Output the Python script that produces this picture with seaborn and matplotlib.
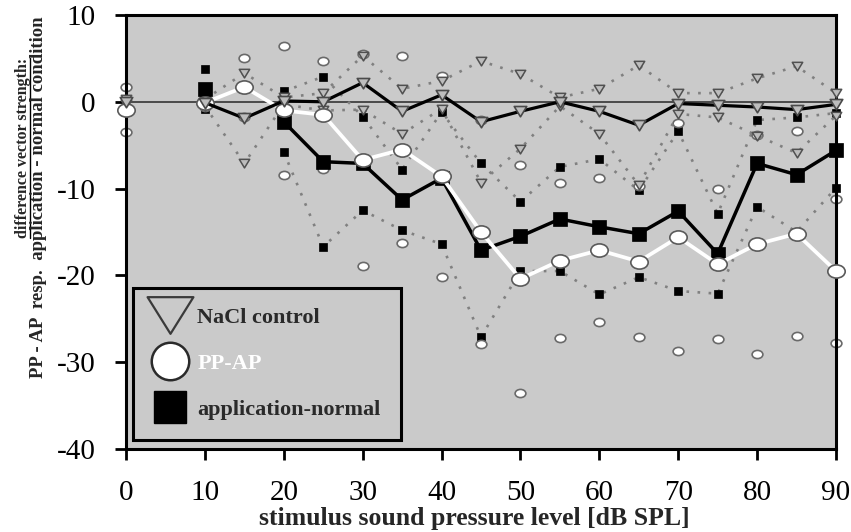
import numpy as np
import pandas as pd
import matplotlib
matplotlib.use("Agg")
import matplotlib.pyplot as plt
from matplotlib.path import Path
from matplotlib.transforms import Affine2D
from matplotlib.lines import Line2D
import seaborn as sns

# Stimulus levels (dB SPL)
levels = [0, 10, 15, 20, 25, 30, 35, 40, 45, 50, 55, 60, 65, 70, 75, 80, 85, 90]
app_levels = [10, 20, 25, 30, 35, 40, 45, 50, 55, 60, 65, 70, 75, 80, 85, 90]

# NaCl control: mean difference and standard deviation
nacl_mean = [0.0, -0.1, -1.9, 0.1, 0.0, 2.2, -1.1, 0.8, -2.3, -1.1, 0.0, -1.1, -2.7, -0.2, -0.4, -0.6, -0.9, -0.3]
nacl_sd = [0.3, 0.4, 5.2, 0.4, 1.0, 3.1, 2.6, 1.6, 7.0, 4.3, 0.5, 2.6, 6.9, 1.2, 1.4, 3.3, 5.0, 1.3]

# PP-AP: mean difference and standard deviation
ppap_mean = [-0.9, -0.1, 1.7, -1.0, -1.5, -6.7, -5.5, -8.6, -15.0, -20.4, -18.3, -17.1, -18.4, -15.6, -18.7, -16.4, -15.2, -19.5]
ppap_sd = [2.6, 0.5, 3.4, 7.4, 6.2, 12.2, 10.8, 11.6, 12.9, 13.1, 8.9, 8.3, 8.7, 13.1, 8.6, 12.6, 11.8, 8.3]

# application - normal: mean difference and standard deviation
app_mean = [1.5, -2.3, -6.9, -7.1, -11.3, -8.8, -17.1, -15.5, -13.5, -14.4, -15.2, -12.6, -17.5, -7.1, -8.4, -5.6]
app_sd = [2.3, 3.5, 9.8, 5.4, 3.5, 7.6, 10.0, 4.0, 6.0, 7.8, 5.0, 9.2, 4.6, 5.0, 6.6, 4.3]

x_ticks = [0, 10, 20, 30, 40, 50, 60, 70, 80, 90]
y_ticks = [-40, -30, -20, -10, 0, 10]
legend_labels = ["NaCl control", "PP-AP", "application-normal"]


def frame(lv, mean, sd):
    df = pd.DataFrame({"level": lv, "mean": mean, "sd": sd})
    df["upper"] = df["mean"] + df["sd"]
    df["lower"] = df["mean"] - df["sd"]
    # levels more than one step apart are not joined by a line
    df["segment"] = (df["level"].diff() > 5).cumsum()
    return df


nacl = frame(levels, nacl_mean, nacl_sd)
ppap = frame(levels, ppap_mean, ppap_sd)
app = frame(app_levels, app_mean, app_sd)

# marker shapes: flat downward triangle and a slightly flattened ellipse
tri = Path([(-1.0, 0.8), (1.0, 0.8), (0.0, -0.85), (-1.0, 0.8)],
           [Path.MOVETO, Path.LINETO, Path.LINETO, Path.CLOSEPOLY])
ell = Affine2D().scale(1.0, 0.76).transform_path(Path.unit_circle())

sns.set_style("ticks")
plt.rcParams["font.family"] = ["Liberation Serif", "DejaVu Serif"]
plt.rcParams["axes.unicode_minus"] = False

BG = "#cacaca"
fig = plt.figure(figsize=(8.51, 5.32), dpi=100)
ax = fig.add_axes([126 / 851, 1 - 449 / 532, 710 / 851, 434 / 532])
ax.set_facecolor(BG)

ax.axhline(0, color="#4a4a4a", lw=1.4, zorder=1)

dotted = (0, (1.0, 3.2))
common = dict(x="level", units="segment", estimator=None, legend=False,
              ax=ax, clip_on=False)

# spread (mean +/- SD)
for col in ("upper", "lower"):
    sns.lineplot(data=app, y=col, color="#808080", lw=1.9, ls=dotted,
                 marker="s", markersize=6, markerfacecolor="black",
                 markeredgecolor="black", markeredgewidth=0.5, zorder=2,
                 **common)
for col in ("upper", "lower"):
    sns.scatterplot(data=ppap, x="level", y=col, marker=ell, s=60,
                    color="white", edgecolor="#6a6a6a", linewidth=1.2,
                    zorder=2.5, legend=False, ax=ax, clip_on=False)
for col in ("upper", "lower"):
    sns.lineplot(data=nacl, y=col, color="#808080", lw=1.9, ls=dotted,
                 marker=tri, markersize=7.5, markerfacecolor="#bdbdbd",
                 markeredgecolor="#505050", markeredgewidth=1.1, zorder=2.6,
                 **common)

# means
sns.lineplot(data=app, y="mean", color="black", lw=2.5,
             marker="s", markersize=9.5, markerfacecolor="black",
             markeredgecolor="black", markeredgewidth=0.5, zorder=3, **common)
sns.lineplot(data=ppap, y="mean", color="white", lw=2.7,
             marker=ell, markersize=12.5, markerfacecolor="white",
             markeredgecolor="#5a5a5a", markeredgewidth=1.2, zorder=4, **common)
sns.lineplot(data=nacl, y="mean", color="black", lw=2.3,
             marker=tri, markersize=9, markerfacecolor="#bdbdbd",
             markeredgecolor="#4a4a4a", markeredgewidth=1.2, zorder=5, **common)

ax.set_xlim(0, 90)
ax.set_ylim(-40, 10)
ax.set_xticks(x_ticks)
ax.set_yticks(y_ticks)
ax.set_xlabel("")
ax.set_ylabel("")
ax.tick_params(direction="out", length=8, width=2, pad=14, labelsize=21,
               colors="black")
for s in ax.spines.values():
    s.set_visible(True)
    s.set_linewidth(2.2)
    s.set_color("black")

# legend
handles = [
    Line2D([], [], ls="none", marker=Path([(-1.0, 0.8), (1.0, 0.8), (0.0, -0.8), (-1.0, 0.8)],
                                         [Path.MOVETO, Path.LINETO, Path.LINETO, Path.CLOSEPOLY]),
           markersize=33, markerfacecolor="none", markeredgecolor="#3a3a3a",
           markeredgewidth=1.6),
    Line2D([], [], ls="none", marker="o", markersize=27, markerfacecolor="white",
           markeredgecolor="#2a2a2a", markeredgewidth=1.8),
    Line2D([], [], ls="none", marker="s", markersize=23, markerfacecolor="black",
           markeredgecolor="black"),
]
leg = ax.legend(handles, legend_labels, loc="lower left",
                bbox_to_anchor=(0.0099, 0.021), borderaxespad=0,
                prop={"family": "Liberation Serif", "weight": "bold", "size": 16},
                handlelength=1.55, handletextpad=0.45, borderpad=0.9,
                labelspacing=1.14, frameon=True, fancybox=False)
leg.get_frame().set_facecolor(BG)
leg.get_frame().set_edgecolor("black")
leg.get_frame().set_linewidth(2.2)
leg.get_frame().set_alpha(1)
for txt, c in zip(leg.get_texts(), ["#2a2a2a", "white", "#2a2a2a"]):
    txt.set_color(c)

# axis titles
fig.text(474 / 851, 1 - 519 / 532, "stimulus sound pressure level [dB SPL]",
         ha="center", va="center", fontsize=18.5, fontweight="bold",
         family="Liberation Serif")
t1 = fig.text(23 / 851, 1 - 148 / 532, "difference vector strength:",
              rotation=90, ha="center", va="center", fontsize=11.5,
              fontweight="bold", family="Liberation Serif")
fig.text(39 / 851, 1 - 197 / 532,
         "PP - AP  resp.  application - normal condition",
         rotation=90, ha="center", va="center", fontsize=13.5,
         fontweight="bold", family="Liberation Serif")

fig.canvas.draw()
bb = t1.get_window_extent(fig.canvas.get_renderer())
ux = 29.5 / 851
fig.add_artist(Line2D([ux, ux], [bb.y0 / 532, bb.y1 / 532],
                      transform=fig.transFigure, color="black", lw=1.0))

fig.savefig("out.png", dpi=100, facecolor="white")
